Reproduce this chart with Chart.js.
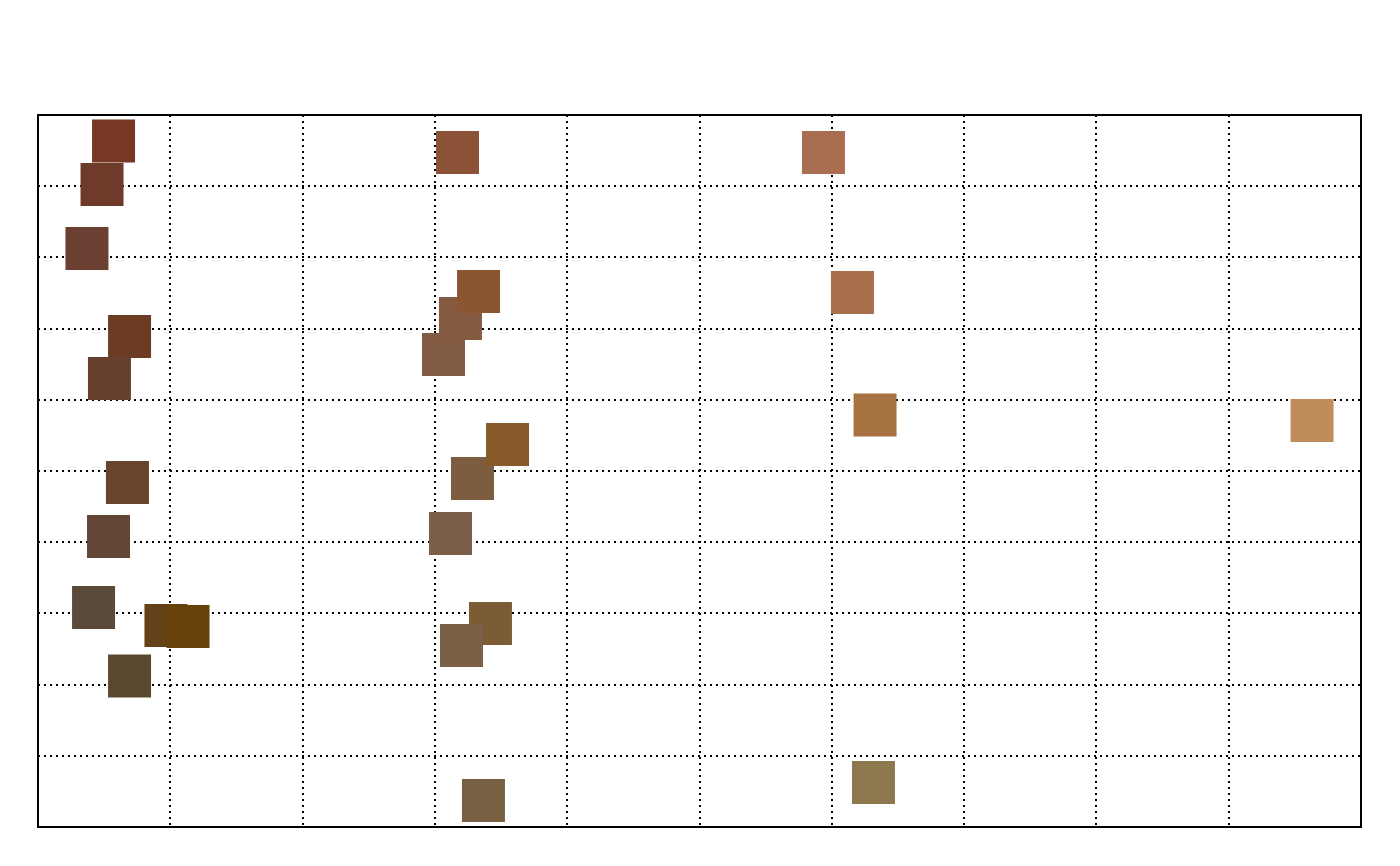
<!DOCTYPE html>
<html>
<head>
<meta charset="utf-8">
<script src="https://cdn.jsdelivr.net/npm/chart.js@4.4.0/dist/chart.umd.min.js"></script>
<style>
html,body{margin:0;padding:0;background:#fff;}
#wrap{width:1400px;height:866px;position:relative;}
</style>
</head>
<body>
<div id="wrap"><canvas id="c" width="1400" height="866"></canvas></div>
<script>
// Data (x: 0-10, y: 0-10)
const xValues = [0.571, 0.484, 0.370, 3.171, 5.937, 3.065, 3.193, 3.330, 6.156, 0.692, 0.540, 6.327, 9.630, 3.284, 3.549, 0.676, 0.533, 3.118, 0.420, 0.967, 1.134, 0.692, 3.420, 3.201, 3.367, 6.315];
const yValues = [9.635, 9.024, 8.125, 9.473, 9.473, 6.636, 7.142, 7.521, 7.507, 6.889, 6.299, 5.787, 5.709, 4.895, 5.372, 4.838, 4.080, 4.122, 3.083, 2.830, 2.816, 2.121, 2.858, 2.549, 0.372, 0.625];
const pointColors = ['#763823', '#6e3b2a', '#6b4033', '#8c5238', '#a96e52', '#825b43', '#845a40', '#8a552f', '#a86f4b', '#6b3c23', '#66402c', '#a67242', '#c08c5c', '#7e5c40', '#875a2a', '#68452a', '#634636', '#7b5e4a', '#5b4939', '#634219', '#66410a', '#5b4730', '#7c5c34', '#7a6046', '#776142', '#8d784d'];
const axisMin = 0, axisMax = 10, tickStep = 1;

const points = xValues.map((x, i) => ({x: x, y: yValues[i]}));

const frame = {
  id: 'frame',
  afterDraw(chart) {
    const a = chart.chartArea, ctx = chart.ctx;
    ctx.save();
    ctx.strokeStyle = '#000';
    ctx.lineWidth = 2;
    ctx.setLineDash([]);
    ctx.strokeRect(a.left, a.top, a.right - a.left, a.bottom - a.top);
    ctx.restore();
  }
};

const gridOpts = {
  color: '#000',
  lineWidth: 2,
  drawTicks: false
};

new Chart(document.getElementById('c'), {
  type: 'scatter',
  data: {
    datasets: [{
      data: points,
      pointStyle: 'rect',
      pointRadius: 30.4,
      pointHoverRadius: 30.4,
      backgroundColor: pointColors,
      borderWidth: 0,
      pointBorderWidth: 0
    }]
  },
  options: {
    responsive: false,
    animation: false,
    events: [],
    layout: {padding: {left: 38, right: 39, top: 115, bottom: 39}},
    plugins: {legend: {display: false}, tooltip: {enabled: false}},
    scales: {
      x: {
        type: 'linear', min: axisMin, max: axisMax,
        ticks: {display: false, stepSize: tickStep},
        grid: gridOpts,
        border: {display: false, dash: [2, 4]}
      },
      y: {
        type: 'linear', min: axisMin, max: axisMax,
        ticks: {display: false, stepSize: tickStep},
        grid: gridOpts,
        border: {display: false, dash: [2, 4]}
      }
    }
  },
  plugins: [frame]
});
</script>
</body>
</html>
